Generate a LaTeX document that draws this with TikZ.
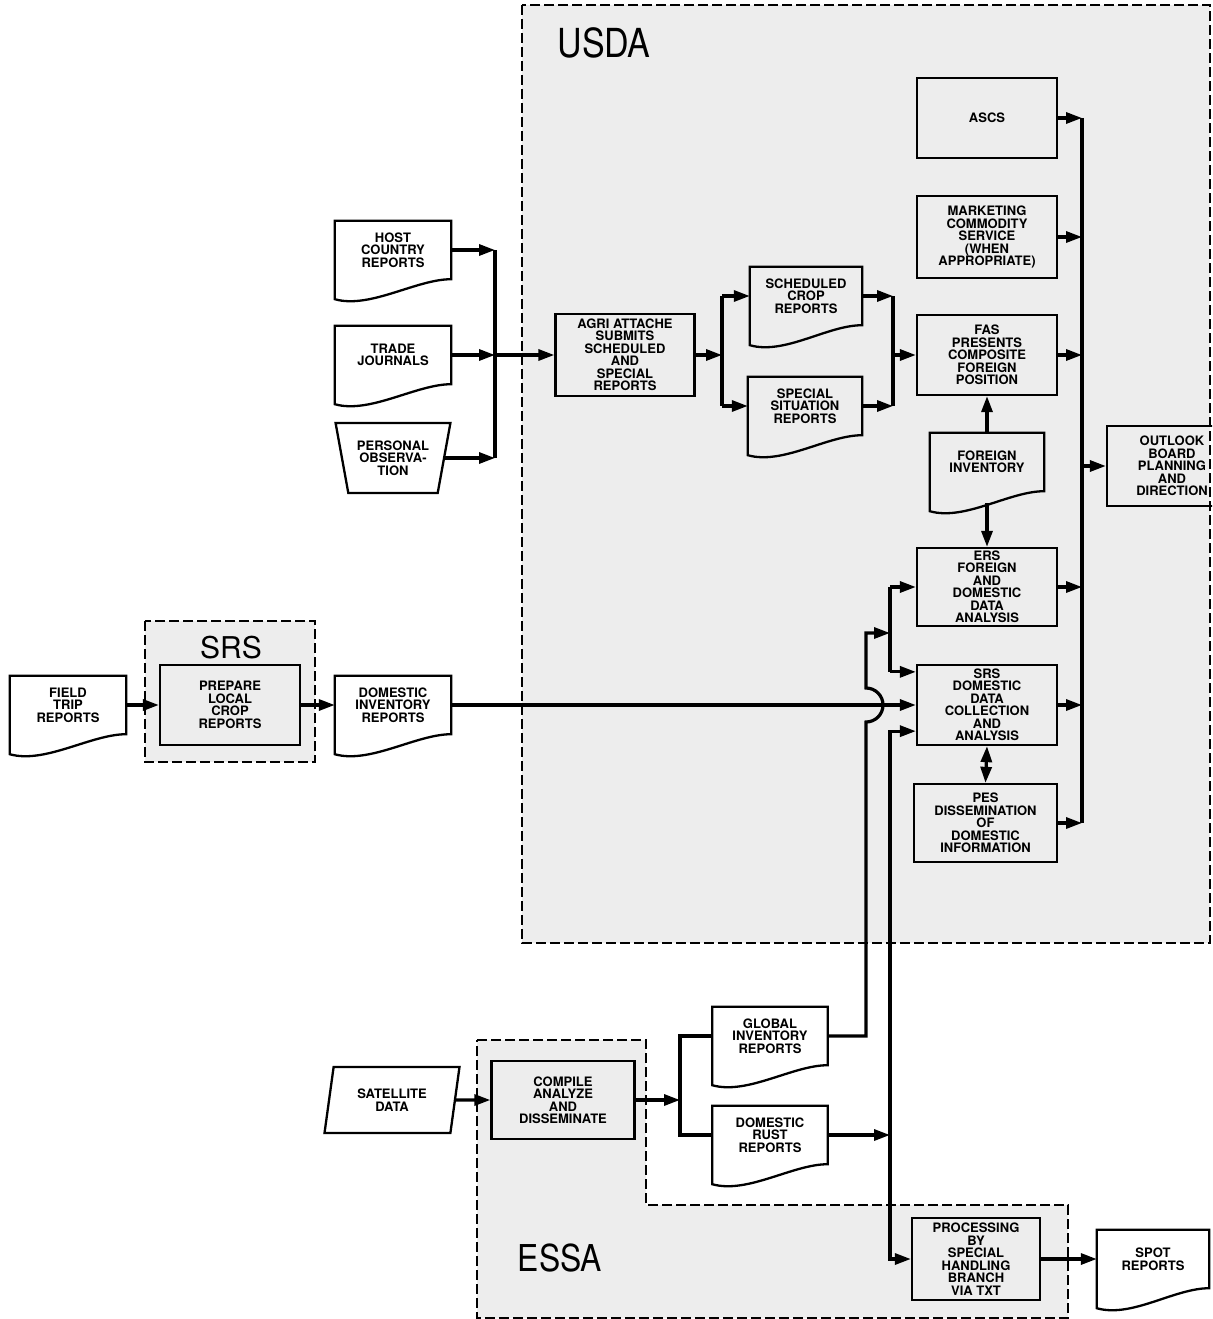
\documentclass[tikz,border=0pt]{standalone}
\usepackage{fontspec}
\setmainfont{TeX Gyre Heros}
\usetikzlibrary{arrows.meta,calc,shapes.geometric}

\newcommand{\boxfont}{\fontsize{13}{12.5}\selectfont\bfseries}

\tikzset{
  >={Triangle[length=16pt,width=11pt]},
  flow/.style={line width=3.2pt},
  unit/.style={rectangle,draw,line width=2.3pt,align=center,font=\boxfont,inner sep=1pt,minimum width=140pt,minimum height=80pt},
  doc/.style={rectangle,align=center,font=\boxfont,inner sep=1pt,minimum width=116pt,minimum height=58pt},
  docline/.style={line width=2.3pt},
  region/.style={draw,line width=1.7pt,dash pattern=on 10pt off 4pt,fill=black!7},
  manual/.style={trapezium,draw,line width=2.3pt,align=center,font=\boxfont,inner sep=1pt,trapezium angle=74,shape border rotate=180,trapezium stretches=true,minimum width=116pt,minimum height=70pt},
  indata/.style={trapezium,draw,line width=2.3pt,align=center,font=\boxfont,inner sep=1pt,trapezium left angle=77,trapezium right angle=103,trapezium stretches=true,minimum width=135pt,minimum height=66pt},
}

\begin{document}
\begin{tikzpicture}[x=1pt,y=1pt]
\path[use as bounding box,clip] (0,0) rectangle (1212,-1319);

% shaded agency regions
\draw[region] (522,-5) rectangle (1210,-943);
\draw[region] (145,-621) rectangle (315,-762);
\draw[region] (477,-1040) -- (646,-1040) -- (646,-1205) -- (1068,-1205) -- (1068,-1318) -- (477,-1318) -- cycle;
\node[font=\fontsize{40}{40}\selectfont,inner sep=0] (usda) at (604,-43) {\scalebox{0.85}[1]{USDA}};
\node[font=\fontsize{30}{30}\selectfont,inner sep=0] (srs) at (231,-648) {SRS};
\node[font=\fontsize{37}{37}\selectfont,inner sep=0] (essa) at (560,-1258) {\scalebox{0.86}[1]{ESSA}};

% USDA column
\node[unit] (ascs) at (987,-118) {ASCS};
\node[unit,minimum height=82pt] (mcs) at (987,-237) {MARKETING\\COMMODITY\\SERVICE\\(WHEN\\APPROPRIATE)};
\node[unit] (fas) at (987,-355) {FAS\\PRESENTS\\COMPOSITE\\FOREIGN\\POSITION};
\node[doc,minimum width=114pt] (forinv) at (987,-462) {FOREIGN\\INVENTORY};
\node[unit,minimum height=78pt] (ers) at (987,-587) {ERS\\FOREIGN\\AND\\DOMESTIC\\DATA\\ANALYSIS};
\node[unit] (srsdc) at (987,-705) {SRS\\DOMESTIC\\DATA\\COLLECTION\\AND\\ANALYSIS};
\node[unit,minimum width=143pt,minimum height=78pt] (pes) at (985.5,-823) {PES\\DISSEMINATION\\OF\\DOMESTIC\\INFORMATION};
\node[unit,minimum width=130pt] (outlook) at (1172,-466) {OUTLOOK\\BOARD\\PLANNING\\AND\\DIRECTION};

% foreign reporting
\node[doc] (host) at (393,-250) {HOST\\COUNTRY\\REPORTS};
\node[doc] (trade) at (393,-355) {TRADE\\JOURNALS};
\node[manual] (persobs) at (393,-458) {PERSONAL\\OBSERVA-\\TION};
\node[unit,minimum width=139pt,minimum height=82pt] (agri) at (625,-355) {AGRI ATTACHE\\SUBMITS\\SCHEDULED\\AND\\SPECIAL\\REPORTS};
\node[doc,minimum width=112pt] (sched) at (806,-296) {SCHEDULED\\CROP\\REPORTS};
\node[doc,minimum width=114pt] (special) at (805,-406) {SPECIAL\\SITUATION\\REPORTS};

% domestic reporting
\node[doc] (field) at (68,-705) {FIELD\\TRIP\\REPORTS};
\node[unit] (prepare) at (230,-705) {PREPARE\\LOCAL\\CROP\\REPORTS};
\node[doc] (dominv) at (393,-705) {DOMESTIC\\INVENTORY\\REPORTS};

% satellite reporting
\node[indata] (satdata) at (392,-1100) {SATELLITE\\DATA};
\node[unit,minimum width=143pt,minimum height=78pt] (compile) at (563,-1100) {COMPILE\\ANALYZE\\AND\\DISSEMINATE};
\node[doc,minimum width=115pt] (global) at (770,-1036) {GLOBAL\\INVENTORY\\REPORTS};
\node[doc,minimum width=115pt] (rust) at (770,-1135) {DOMESTIC\\RUST\\REPORTS};
\node[unit,minimum width=128pt,minimum height=82pt] (proc) at (976,-1259) {PROCESSING\\BY\\SPECIAL\\HANDLING\\BRANCH\\VIA TXT};
\node[doc,minimum width=112pt] (spot) at (1153,-1259) {SPOT\\REPORTS};

% document outlines
\foreach \d in {host,trade,sched,special,forinv,field,dominv,global,rust,spot}
  \draw[docline] (\d.north west) -- (\d.north east) -- (\d.south east)
    .. controls ($(\d.south east)+(-35,0)$) and ($(\d.south west)+(35,-30)$) .. ($(\d.south west)+(0,-20)$) -- cycle;

% junctions
\coordinate (lm) at (495,0);
\coordinate (as) at (722,0);
\coordinate (sj) at (893,0);
\coordinate (bus) at (1082,0);
\coordinate (jx) at (890,0);
\coordinate (gx) at (866,-633);
\coordinate (cj) at (680,0);
\coordinate (forinvb) at ($(forinv.south)+(0,-12)$);
\coordinate (srsin1) at ($(srsdc.north west)+(0,-8)$);
\coordinate (srsin3) at ($(srsdc.south west)+(0,15)$);

% into the attache
\foreach \s in {host,trade,persobs}
  \draw[flow,->] (\s.east) -- (\s.east -| lm);
\draw[flow] (host.east -| lm) -- (persobs.east -| lm);
\draw[flow,->] (trade.east -| lm) -- (agri.west);
\draw[flow,->] (agri.east) -- (agri.east -| as);
\draw[flow] (sched.west -| as) -- (special.west -| as);
\draw[flow,->] (sched.west -| as) -- (sched.west);
\draw[flow,->] (special.west -| as) -- (special.west);
\draw[flow,->] (sched.east) -- (sched.east -| sj);
\draw[flow,->] (special.east) -- (special.east -| sj);
\draw[flow] (sched.east -| sj) -- (special.east -| sj);
\draw[flow,->] (fas.west -| sj) -- (fas.west);

% to the outlook board
\foreach \u in {ascs,mcs,fas,ers,srsdc,pes}
  \draw[flow,->] (\u.east) -- (\u.east -| bus);
\draw[flow] (ascs.east -| bus) -- (pes.east -| bus);
\draw[flow,->] (outlook.west -| bus) -- (outlook.west);
\draw[flow,->] (forinv.north) -- (fas.south);
\draw[flow,->] (forinvb) -- (ers.north);
\draw[flow,<->] (srsdc.south) -- (pes.north);

% SRS chain
\draw[flow,->] (field.east) -- (prepare.west);
\draw[flow,->] (prepare.east) -- (dominv.west);
\draw[flow,->] (dominv.east) -- (srsdc.west);

% ESSA chain
\draw[flow,->] (satdata.east) -- (compile.west);
\draw[flow,->] (compile.east) -- (compile.east -| cj);
\draw[flow] (global.west) -- (global.west -| cj) -- (rust.west -| cj) -- (rust.west);
\draw[flow,->] (global.east) -- (global.east -| gx) -- ($(dominv.east -| gx)+(0,-17)$)
  arc[start angle=-90,end angle=90,radius=17] -- (gx) -- (gx -| jx);
\draw[flow] (ers.west -| jx) -- (srsin1 -| jx);
\draw[flow,->] (ers.west -| jx) -- (ers.west);
\draw[flow,->] (srsin1 -| jx) -- (srsin1);
\draw[flow,->] (rust.east) -- (rust.east -| jx);
\draw[flow,->] (rust.east -| jx) |- (srsin3);
\draw[flow,->] (rust.east -| jx) |- (proc.west);
\draw[flow,->] (proc.east) -- (spot.west);
\end{tikzpicture}
\end{document}
